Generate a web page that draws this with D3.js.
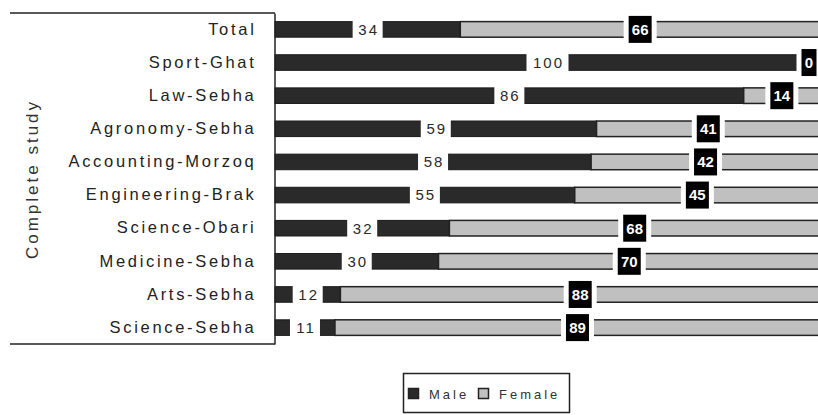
<!DOCTYPE html>
<html>
<head>
<meta charset="utf-8">
<script src="https://cdn.jsdelivr.net/npm/d3@7"></script>
<style>
body { margin: 0; background: #fff; }
text { font-family: "Liberation Sans", Arial, sans-serif; }
</style>
</head>
<body>
<script>
// data (percent)
var categories = ["Total", "Sport-Ghat", "Law-Sebha", "Agronomy-Sebha", "Accounting-Morzoq",
  "Engineering-Brak", "Science-Obari", "Medicine-Sebha", "Arts-Sebha", "Science-Sebha"];
var male = [34, 100, 86, 59, 58, 55, 32, 30, 12, 11];
var female = [66, 0, 14, 41, 42, 45, 68, 70, 88, 89];
var seriesNames = ["Male", "Female"];
var axisTitle = "Complete study";

var w = 818;
var h = 415;

var svg = d3.select("body")
  .append("svg")
  .attr("width", w)
  .attr("height", h);

var x = d3.scaleLinear().domain([0, 100]).range([275, 820]);
var y = d3.scaleBand().domain(categories).range([13, 344]).paddingInner(0.53).paddingOuter(0.26);

var rows = categories.map(function(c, i) {
  return { cat: c, male: male[i], female: female[i] };
});

// male segments
svg.selectAll("rect.male")
  .data(rows)
  .enter()
  .append("rect")
  .attr("class", "male")
  .attr("x", x(0))
  .attr("y", function(d) { return y(d.cat); })
  .attr("width", function(d) { return x(d.male) - x(0); })
  .attr("height", y.bandwidth())
  .attr("fill", "#2a2a2a")
  .attr("stroke", "#1a1a1a")
  .attr("stroke-width", 1);

// female segments
svg.selectAll("rect.female")
  .data(rows.filter(function(d) { return d.female > 0; }))
  .enter()
  .append("rect")
  .attr("class", "female")
  .attr("x", function(d) { return x(d.male); })
  .attr("y", function(d) { return y(d.cat); })
  .attr("width", function(d) { return x(d.male + d.female) - x(d.male); })
  .attr("height", y.bandwidth())
  .attr("fill", "#c0c0c0")
  .attr("stroke", "#222")
  .attr("stroke-width", 1.5);

// male labels: dark text on white
var ml = svg.selectAll("g.mlab")
  .data(rows)
  .enter()
  .append("g")
  .attr("class", "mlab")
  .attr("transform", function(d) {
    return "translate(" + (x(d.male / 2)) + "," + (y(d.cat) + y.bandwidth() / 2) + ")";
  });
ml.append("rect")
  .attr("x", function(d) { return -(String(d.male).length * 12 + 6) / 2; })
  .attr("y", -11)
  .attr("width", function(d) { return String(d.male).length * 12 + 6; })
  .attr("height", 22)
  .attr("fill", "#fff");
ml.append("text")
  .text(function(d) { return d.male; })
  .attr("x", 1)
  .attr("dy", "0.36em")
  .attr("text-anchor", "middle")
  .attr("font-size", 15)
  .attr("letter-spacing", 2)
  .attr("fill", "#2a2a2a");

// female labels: white text on black box (kept inside the right edge)
var fl = svg.selectAll("g.flab")
  .data(rows)
  .enter()
  .append("g")
  .attr("class", "flab")
  .attr("transform", function(d) {
    var cx = Math.min(x(d.male + d.female / 2), w - 9);
    return "translate(" + cx + "," + (y(d.cat) + y.bandwidth() / 2) + ")";
  });
fl.append("rect")
  .attr("x", function(d) { return -(String(d.female).length * 8 + 17) / 2; })
  .attr("y", -11)
  .attr("width", function(d) { return String(d.female).length * 8 + 17; })
  .attr("height", 22)
  .attr("fill", "#fff");
fl.append("rect")
  .attr("x", function(d) { return -(String(d.female).length * 8 + 7) / 2; })
  .attr("y", -13.5)
  .attr("width", function(d) { return String(d.female).length * 8 + 7; })
  .attr("height", 27)
  .attr("fill", "#000");
fl.append("text")
  .text(function(d) { return d.female; })
  .attr("dy", "0.36em")
  .attr("text-anchor", "middle")
  .attr("font-size", 15)
  .attr("font-weight", "bold")
  .attr("fill", "#fff");

// category axis
var yAxis = d3.axisLeft(y).tickSize(0).tickPadding(18);
var gy = svg.append("g")
  .attr("transform", "translate(274.5,0)")
  .call(yAxis);
gy.select(".domain").attr("stroke", "#222").attr("stroke-width", 1.5);
gy.selectAll("text")
  .attr("font-size", 16.5)
  .attr("letter-spacing", 2.7)
  .attr("fill", "#222");

// bracket lines of the group level
svg.append("line").attr("x1", 10).attr("x2", 275).attr("y1", 13).attr("y2", 13)
  .attr("stroke", "#222").attr("stroke-width", 1.5);
svg.append("line").attr("x1", 10).attr("x2", 275).attr("y1", 344).attr("y2", 344)
  .attr("stroke", "#222").attr("stroke-width", 1.5);

svg.append("text")
  .text(axisTitle)
  .attr("transform", "translate(38,179) rotate(-90)")
  .attr("text-anchor", "middle")
  .attr("font-size", 17)
  .attr("letter-spacing", 3)
  .attr("fill", "#333");

// legend
var legend = svg.append("g");
legend.append("rect")
  .attr("x", 403.5).attr("y", 373.5)
  .attr("width", 166).attr("height", 39)
  .attr("fill", "#fff")
  .attr("stroke", "#222")
  .attr("stroke-width", 1.5);
var legX = [408, 478];
var legFill = ["#2a2a2a", "#c0c0c0"];
seriesNames.forEach(function(s, i) {
  legend.append("rect")
    .attr("x", legX[i] + 0.5).attr("y", 388.5)
    .attr("width", 10).attr("height", 10)
    .attr("fill", legFill[i])
    .attr("stroke", "#222")
    .attr("stroke-width", 1.5);
  legend.append("text")
    .text(s)
    .attr("x", legX[i] + 21)
    .attr("y", 399)
    .attr("font-size", 13)
    .attr("letter-spacing", 3)
    .attr("fill", "#333");
});
</script>
</body>
</html>
